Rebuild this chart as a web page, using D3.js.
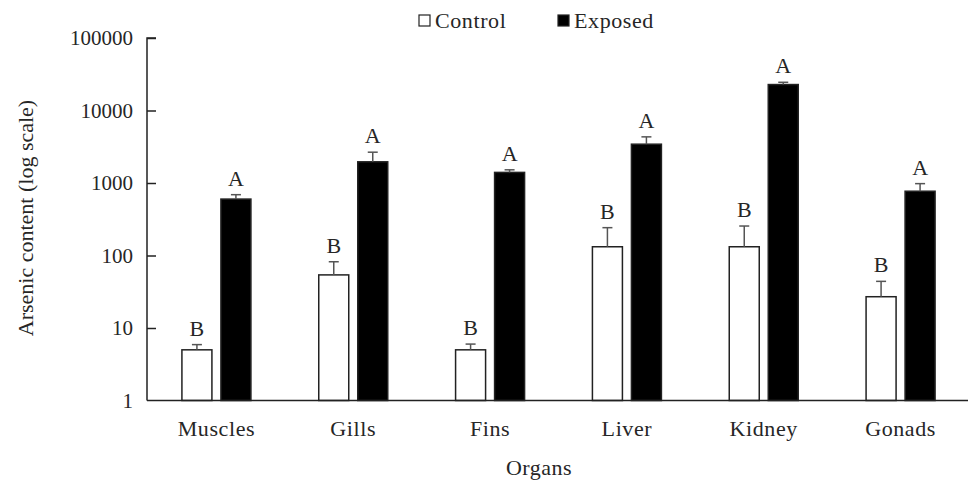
<!DOCTYPE html>
<html><head><meta charset="utf-8">
<script src="https://cdn.jsdelivr.net/npm/d3@7"></script>
<style>body{margin:0;background:#fff;} svg{display:block;}</style>
</head><body>
<svg id="chart" width="968" height="480"></svg>
<script>
const organs = ["Muscles","Gills","Fins","Liver","Kidney","Gonads"];
const controlMean = [5, 54, 5, 132, 132, 27];
const controlErr  = [0.9, 28, 1, 110, 123, 17];
const exposedMean = [600, 1960, 1400, 3430, 22800, 770];
const exposedErr  = [90, 700, 120, 900, 1700, 210];
const controlLetters = ["B","B","B","B","B","B"];
const exposedLetters = ["A","A","A","A","A","A"];
const yTicks = [1,10,100,1000,10000,100000];
const seriesNames = ["Control","Exposed"];

(function(){
const cv = document.createElement("canvas").getContext("2d");
const sample = "Muscles Organs Arsenic 100000 ABC";
function w(f){ cv.font = "20px " + f; return cv.measureText(sample).width; }
const cands = ['"Liberation Serif"','Tinos','"Times New Roman"','"Noto Serif"','"DejaVu Serif"'];
let FONT = "serif";
for (const c of cands){
  if (w(c + ", monospace") !== w("monospace") && w(c + ", sans-serif") !== w("sans-serif")) { FONT = c + ", serif"; break; }
}

const svg = d3.select("#chart").style("font-family", FONT);
const mLeft = 147, mRight = 969, mTop = 38, mBottom = 400.5;
const txt = "#262626";

const x = d3.scaleBand().domain(organs).range([mLeft+1, mRight]).paddingInner(0).paddingOuter(0);
const y = d3.scaleLog().domain([1, 100000]).range([mBottom, mTop]);

const barW = 30, off = 19.5;

const g = svg.append("g");
organs.forEach((o,i)=>{
  const cx = x(o) + x.bandwidth()/2;
  const series = [
    {m: controlMean[i], e: controlErr[i], l: controlLetters[i], dx: -off, fill:"#fff"},
    {m: exposedMean[i], e: exposedErr[i], l: exposedLetters[i], dx: off, fill:"#000"}
  ];
  series.forEach(s=>{
    const bx = cx + s.dx;
    g.append("rect").attr("x", bx - barW/2).attr("y", y(s.m)).attr("width", barW)
      .attr("height", mBottom - y(s.m)).attr("fill", s.fill).attr("stroke","#222").attr("stroke-width",1.5);
    const yt = y(s.m + s.e);
    g.append("line").attr("x1",bx).attr("x2",bx).attr("y1",y(s.m)).attr("y2",yt).attr("stroke","#555").attr("stroke-width",1.5);
    g.append("line").attr("x1",bx-5).attr("x2",bx+5).attr("y1",yt).attr("y2",yt).attr("stroke","#555").attr("stroke-width",1.5);
    g.append("text").attr("x",bx).attr("y",yt-9).attr("text-anchor","middle").attr("font-size",22)
      .attr("font-family",FONT).attr("fill",txt).text(s.l);
  });
});

const yAxis = d3.axisRight(y).tickValues(yTicks).tickSize(9).tickFormat("");
const ya = svg.append("g").attr("transform",`translate(${mLeft},0)`).call(yAxis);
ya.select(".domain").attr("stroke","#222").attr("stroke-width",1.5).attr("d",`M9,${mTop}H0V${mBottom}`);
ya.selectAll(".tick line").attr("stroke","#222").attr("stroke-width",1.5);
ya.selectAll(".tick").filter(d=>d===1).select("line").remove();
svg.append("g").selectAll("text").data(yTicks).join("text")
  .attr("x",133).attr("y",d=>y(d)).attr("dy","0.35em").attr("text-anchor","end")
  .attr("font-size",21).attr("font-family",FONT).attr("fill",txt).text(d=>d3.format("d")(d));

const xAxis = d3.axisBottom(x).tickSize(0).tickPadding(0);
const xa = svg.append("g").attr("transform",`translate(0,${mBottom})`).call(xAxis)
  .attr("font-family",FONT);
xa.select(".domain").attr("stroke","#222").attr("stroke-width",1.5).attr("d",`M${mLeft},0H${mRight}`);
xa.selectAll(".tick text").attr("font-size",22).attr("y",35).attr("dy",0)
  .attr("letter-spacing","0.6px")
  .attr("font-family",FONT).attr("fill",txt);

svg.append("text").attr("x",539).attr("y",475).attr("text-anchor","middle").attr("font-size",22)
  .attr("letter-spacing","0.5px")
  .attr("font-family",FONT).attr("fill",txt).text("Organs");
svg.append("text").attr("transform","translate(33,218) rotate(-90)").attr("text-anchor","middle")
  .attr("font-size",22).attr("font-family",FONT).attr("fill",txt).text("Arsenic content (log scale)");

const lg = svg.append("g");
const legX = [419, 558];
seriesNames.forEach((n,i)=>{
  lg.append("rect").attr("x",legX[i]).attr("y",15).attr("width",11).attr("height",11)
    .attr("fill", i===0?"#fff":"#000").attr("stroke","#222").attr("stroke-width",1.2);
  lg.append("text").attr("x",legX[i]+16).attr("y",28).attr("font-size",22)
    .attr("letter-spacing","0.6px")
    .attr("font-family",FONT).attr("fill",txt).text(n);
});
})();
</script>
</body></html>
